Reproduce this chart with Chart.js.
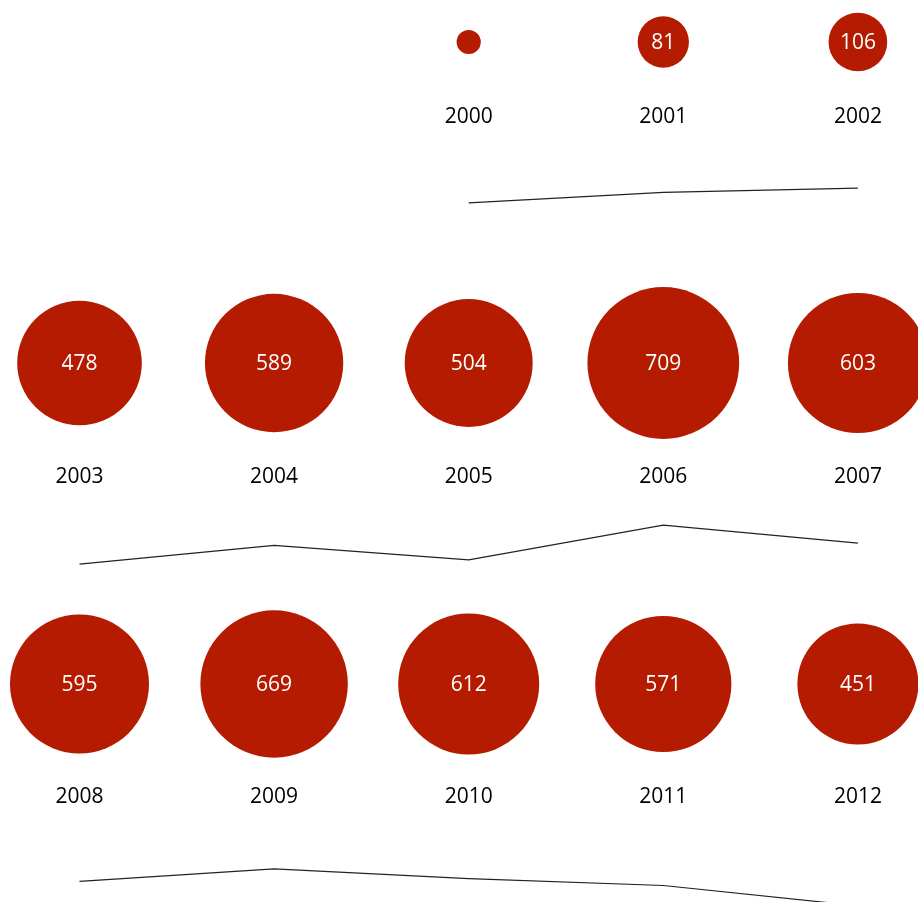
<!DOCTYPE html>
<html>
<head>
<meta charset="utf-8">
<script src="https://cdn.jsdelivr.net/npm/chart.js@4.4.0/dist/chart.umd.min.js"></script>
<style>
  html, body { margin: 0; padding: 0; background: #fff; }
  #wrap { width: 918px; height: 902px; }
</style>
</head>
<body>
<div id="wrap"><canvas id="bubbleChart" width="918" height="902"></canvas></div>
<script>
// data
const years = [2000, 2001, 2002, 2003, 2004, 2005, 2006, 2007, 2008, 2009, 2010, 2011, 2012];
const values = [18, 81, 106, 478, 589, 504, 709, 603, 595, 669, 612, 571, 451];

// layout
const COLS = 5;
const EMPTY_SLOTS = 2;          // first row is right-aligned
const RADIUS_K = 2.85;          // bubble radius = k * sqrt(value)
const RED = '#b41b00';
const LABEL_OFFSET = [75, 114, 113];   // year label below bubble centre, per row
const LINE_BASE = [206, 645, 982];     // pixel where a value of 0 would sit, per row
const LINE_SCALE = 0.169;              // px per unit
const H = 902;

const slots = years.map((y, i) => {
  const s = i + EMPTY_SLOTS;
  return { col: s % COLS, row: Math.floor(s / COLS) };
});

const bubbleData = values.map((v, i) => ({
  x: slots[i].col,
  y: slots[i].row,
  r: RADIUS_K * Math.sqrt(v)
}));

const rowCount = Math.max(...slots.map(s => s.row)) + 1;
const lineSets = [];
const lineScales = {};
for (let r = 0; r < rowCount; r++) {
  const id = 'l' + r;
  lineSets.push({
    type: 'line',
    yAxisID: id,
    data: values.map((v, i) => ({ x: slots[i].col, y: v, row: slots[i].row }))
      .filter(p => p.row === r),
    borderColor: '#222',
    borderWidth: 1.2,
    pointRadius: 0,
    tension: 0,
    fill: false,
    clip: false
  });
  lineScales[id] = {
    type: 'linear',
    display: false,
    max: LINE_BASE[r] / LINE_SCALE,
    min: (LINE_BASE[r] - H) / LINE_SCALE
  };
}

const labelPlugin = {
  id: 'bubbleLabels',
  afterDatasetsDraw(chart) {
    const ctx = chart.ctx;
    const meta = chart.getDatasetMeta(0);
    ctx.save();
    ctx.textAlign = 'center';
    ctx.textBaseline = 'middle';
    ctx.font = '21px "Open Sans", sans-serif';
    meta.data.forEach((el, i) => {
      const r = bubbleData[i].r;
      if (r > 20) {
        ctx.fillStyle = '#fff';
        ctx.fillText(String(values[i]), el.x, el.y + 1);
      }
      ctx.fillStyle = '#000';
      ctx.fillText(String(years[i]), el.x, el.y + LABEL_OFFSET[slots[i].row]);
    });
    ctx.restore();
  }
};

new Chart(document.getElementById('bubbleChart').getContext('2d'), {
  type: 'bubble',
  data: {
    datasets: [
      {
        data: bubbleData,
        backgroundColor: RED,
        borderColor: RED,
        borderWidth: 0,
        clip: false
      },
      ...lineSets
    ]
  },
  options: {
    responsive: false,
    animation: false,
    devicePixelRatio: 1,
    events: [],
    layout: { padding: 0, autoPadding: false },
    plugins: {
      legend: { display: false },
      tooltip: { enabled: false }
    },
    scales: {
      x: {
        type: 'linear',
        display: false,
        min: -79.5 / 194.6,
        max: (918 - 79.5) / 194.6
      },
      y: {
        type: 'linear',
        display: false,
        reverse: true,
        min: -42 / 321,
        max: (H - 42) / 321
      },
      ...lineScales
    }
  },
  plugins: [labelPlugin]
});
</script>
</body>
</html>
